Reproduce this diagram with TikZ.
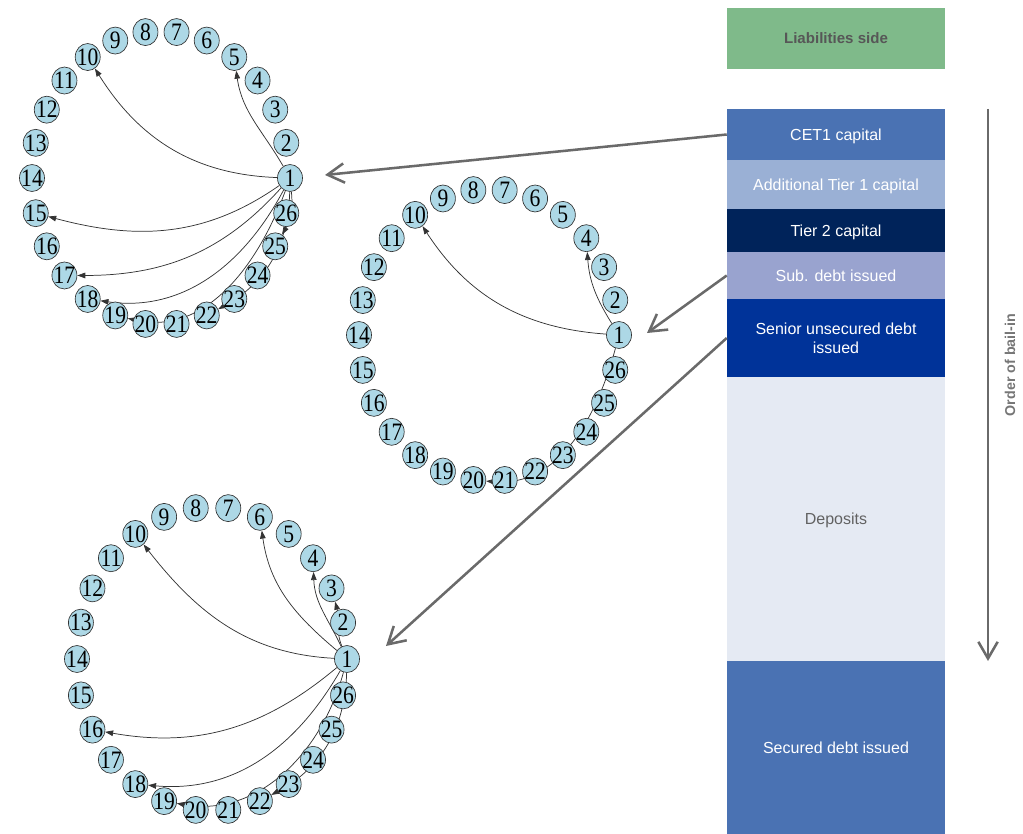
\documentclass[tikz,border=0pt]{standalone}
\usepackage{fontspec}
\usepackage{graphicx}
\setmainfont{Liberation Serif}
\newfontfamily\arialf{Liberation Sans}
\usetikzlibrary{shapes.geometric,arrows.meta,backgrounds}
\definecolor{nodefill}{HTML}{ADD8E6}
\definecolor{liabgreen}{HTML}{7FBA8A}
\definecolor{labgray}{HTML}{575757}
\definecolor{cetblue}{HTML}{4A72B3}
\definecolor{atone}{HTML}{9AB0D5}
\definecolor{tiertwo}{HTML}{00235A}
\definecolor{subdebt}{HTML}{99A3CF}
\definecolor{senior}{HTML}{003399}
\definecolor{deposits}{HTML}{E5EAF3}
\definecolor{depgray}{HTML}{626262}
\definecolor{ordgray}{HTML}{767676}
\definecolor{arrgray}{HTML}{6A6A6A}
\def\px{0.75pt}
\tikzset{
  ringnode/.style={ellipse, draw=black!80, line width=0.5pt, fill=nodefill,
    minimum width=25*\px, minimum height=27*\px, inner sep=-6pt,
    font=\fontsize{16.5}{17}\selectfont},
  edge/.style={draw=black!80, line width=0.55pt, -{Triangle[length=6pt,width=4.2pt]}},
  bigarrow/.style={draw=arrgray, line width=1.9pt, -{Straight Barb[length=12.5pt,width=14.5pt]}},
  bar/.style={rectangle, inner sep=0pt, minimum width=218*\px, text=white, text depth=0pt,
    font=\arialf\fontsize{12}{14.3}\selectfont, align=center},
}
\newcommand\drawring[5]{%
  \foreach \k in {1,...,26}{%
    \pgfmathsetmacro\ang{(\k-1)*360/26}%
    \node[ringnode] (#1n\k) at ({#2+#4*cos(\ang)},{#3-#5*sin(\ang)}) {\scalebox{0.98}[1.14]{\k}};
  }}
\begin{document}
\begin{tikzpicture}[x=0.75pt,y=-0.75pt]
\useasboundingbox (0,0) rectangle (1023,834);

% rings
\drawring{c1}{161}{178}{129}{147}
\drawring{c2}{489}{335}{130}{146}
\drawring{c3}{212}{659}{135}{152}

\begin{pgfonlayer}{background}
% ring 1 edges
\draw[edge] (c1n1) to[out=178,in=-58] (c1n10);
\draw[edge] (c1n1) to[out=120,in=-82] (c1n5);
\draw[edge] (c1n1) to[out=215,in=-15] (c1n15);
\draw[edge] (c1n1) to[out=228,in=0] (c1n17);
\draw[edge] (c1n1) to[out=242,in=-8] (c1n18);
\draw[edge] (c1n1) to[out=250,in=-13] (c1n19);
\draw[edge] (c1n1) to[bend left=30] (c1n22);
\draw[edge] (c1n1) to[bend left=18] (c1n25);
% ring 2 edges
\draw[edge] (c2n1) to[out=176,in=-57] (c2n10);
\draw[edge] (c2n1) to[out=122,in=-86] (c2n4);
\draw[edge] (c2n1) to[out=255,in=-5] (c2n20);
% ring 3 edges
\draw[edge] (c3n1) to[out=177,in=-52] (c3n10);
\draw[edge] (c3n1) to[out=140,in=-82] (c3n6);
\draw[edge] (c3n1) to[out=115,in=-88] (c3n4);
\draw[edge] (c3n1) to[out=112,in=-75] (c3n3);
\draw[edge] (c3n1) to[out=220,in=-10] (c3n16);
\draw[edge] (c3n1) to[out=240,in=-5] (c3n18);
\draw[edge] (c3n1) to[out=255,in=-10] (c3n19);
\draw[edge] (c3n1) to[bend left=30] (c3n22);
\end{pgfonlayer}

% right column
\node[bar, fill=liabgreen, minimum height=61*\px, text=labgray,
  font=\arialf\bfseries\fontsize{11.3}{13}\selectfont] (liab) at (836,38.5) {Liabilities side};
\node[bar, fill=cetblue, minimum height=51*\px] (cet1) at (836,134.5) {CET1 capital};
\node[bar, fill=atone, minimum height=49*\px] (at1) at (836,184.5) {Additional Tier 1 capital};
\node[bar, fill=tiertwo, minimum height=43*\px] (t2) at (836,230.5) {Tier 2 capital};
\node[bar, fill=subdebt, minimum height=47*\px] (sub) at (836,275.5) {Sub. debt issued};
\node[bar, fill=senior, minimum height=78*\px] (sen) at (836,338) {Senior unsecured debt\\issued};
\node[bar, fill=deposits, minimum height=284*\px, text=depgray] (dep) at (836,519) {Deposits};
\node[bar, fill=cetblue, minimum height=173*\px] (sec) at (836,747.5) {Secured debt issued};

% order of bail-in
\coordinate (ordtop) at (988,109);
\coordinate (ordbot) at (988,661);
\draw[bigarrow] (ordtop) -- (ordbot);
\node[rotate=90, text=ordgray, font=\arialf\bfseries\fontsize{10.7}{12}\selectfont] (ordlab) at (1010,365) {Order of bail-in};

% arrows from liabilities to rings
\coordinate (tip1) at (325,175);
\coordinate (tip2) at (647,333);
\coordinate (tip3) at (386,646);
\draw[bigarrow] (cet1.west) -- (tip1);
\draw[bigarrow] (sub.west) -- (tip2);
\draw[bigarrow] (sen.west) -- (tip3);
\end{tikzpicture}
\end{document}
